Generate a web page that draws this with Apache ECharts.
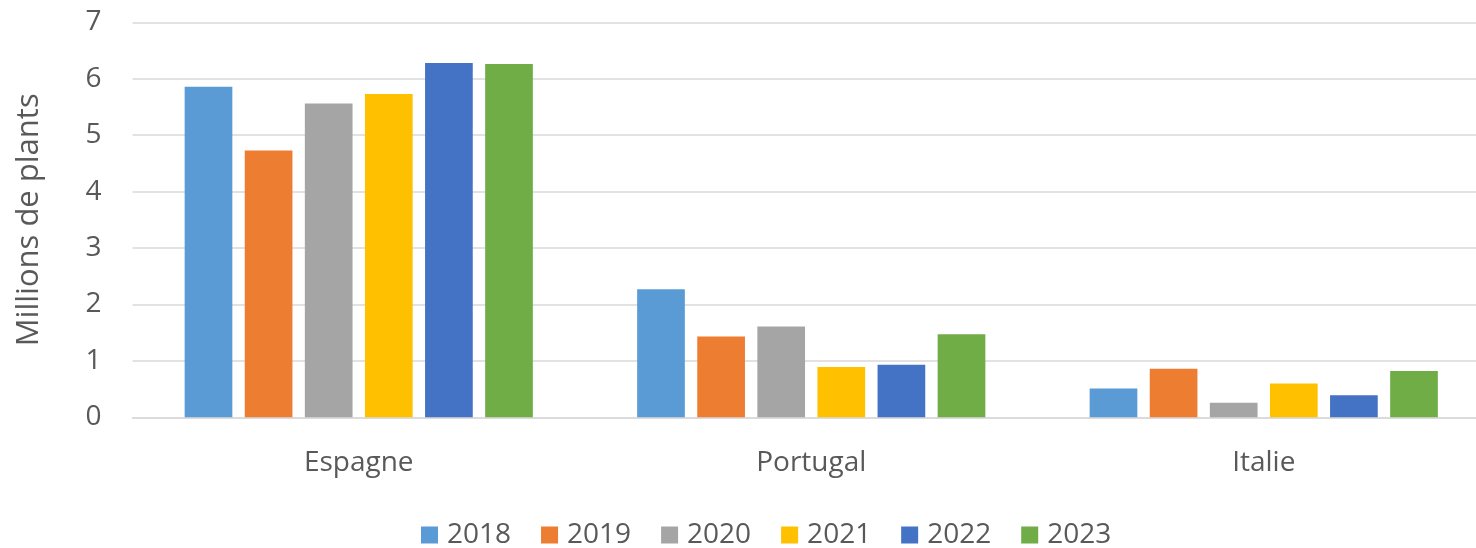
<!DOCTYPE html>
<html>
<head>
<meta charset="utf-8">
<script src="https://cdn.jsdelivr.net/npm/echarts@6/dist/echarts.min.js"></script>
<style>
  html, body { margin: 0; padding: 0; background: #fff; overflow: hidden; }
  /* the plot runs past the right edge of the picture, like the original crop */
  #chart { width: 1490px; height: 548px; }
</style>
</head>
<body>
<div id="chart"></div>
<script>
  // pays et années
  var countries = ['Espagne', 'Portugal', 'Italie'];
  var years = ['2018', '2019', '2020', '2021', '2022', '2023'];
  var yTicks = [0, 1, 2, 3, 4, 5, 6, 7];

  // millions de plants par année (Espagne, Portugal, Italie)
  var v2018 = [5.86, 2.27, 0.51];
  var v2019 = [4.73, 1.43, 0.86];
  var v2020 = [5.56, 1.61, 0.26];
  var v2021 = [5.73, 0.89, 0.60];
  var v2022 = [6.28, 0.93, 0.39];
  var v2023 = [6.26, 1.47, 0.82];

  var values = [v2018, v2019, v2020, v2021, v2022, v2023];
  var colors = ['#5B9BD5', '#ED7D31', '#A5A5A5', '#FFC000', '#4472C4', '#70AD47'];

  var font = '"Open Sans", sans-serif';
  var textColor = '#595959';

  var series = years.map(function (y, i) {
    return {
      name: y,
      type: 'bar',
      data: values[i],
      barWidth: 47.7,
      barGap: '26%',
      itemStyle: { color: colors[i] }
    };
  });

  var option = {
    animation: false,
    color: colors,
    grid: { left: 132.5, top: 22.3, right: 0, height: 395, containLabel: false },
    legend: {
      data: years,
      left: 416,
      top: 516,
      icon: 'rect',
      itemWidth: 17,
      itemHeight: 17,
      itemGap: 30,
      textStyle: { fontFamily: font, fontSize: 28, color: textColor, padding: [0, 0, 0, 4] }
    },
    xAxis: {
      type: 'category',
      data: countries,
      axisLine: { lineStyle: { color: '#d9d9d9', width: 1.5 } },
      axisTick: { show: false },
      axisLabel: { fontFamily: font, fontSize: 28, color: textColor, margin: 32 }
    },
    yAxis: {
      type: 'value',
      min: 0,
      max: 7,
      interval: 1,
      name: 'Millions de plants',
      nameLocation: 'middle',
      nameGap: 88,
      nameTextStyle: { fontFamily: font, fontSize: 31, color: textColor },
      axisLine: { show: false },
      axisTick: { show: false },
      axisLabel: {
        fontFamily: font, fontSize: 28, color: textColor, margin: 31,
        formatter: function (v) { return yTicks.indexOf(v) >= 0 ? String(v) : ''; }
      },
      splitLine: { lineStyle: { color: '#d9d9d9', width: 1.5 } }
    },
    series: series
  };

  var myChart = echarts.init(document.getElementById('chart'));
  myChart.setOption(option);

  window.addEventListener('resize', function () {
    myChart.resize();
  });
</script>
</body>
</html>
